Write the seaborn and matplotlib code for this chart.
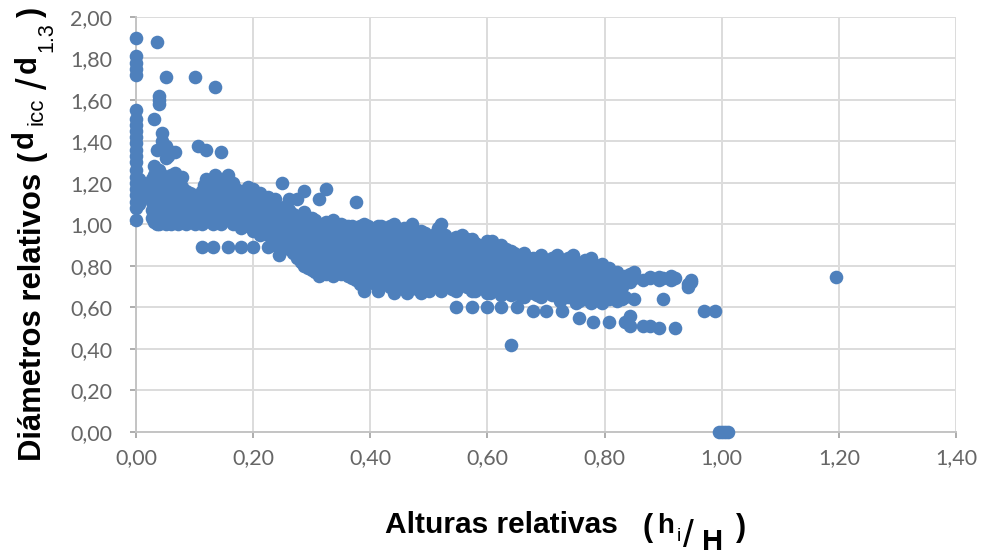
import pandas as pd
import matplotlib
matplotlib.use('Agg')
import matplotlib.pyplot as plt
import seaborn as sns

# each x position with the y values read at that position
x_columns = [0.000, 0.005, 0.012, 0.027, 0.030, 0.035, 0.040, 0.045, 0.052, 0.055, 0.060, 0.066,
             0.072, 0.078, 0.085, 0.092, 0.100, 0.105, 0.112, 0.120, 0.131, 0.135, 0.145, 0.157,
             0.165, 0.180, 0.192, 0.200, 0.212, 0.225, 0.238, 0.250, 0.262, 0.275, 0.287, 0.300,
             0.312, 0.325, 0.337, 0.350, 0.362, 0.376, 0.390, 0.402, 0.413, 0.425, 0.440, 0.452,
             0.463, 0.472, 0.487, 0.500, 0.512, 0.520, 0.533, 0.546, 0.556, 0.573, 0.585, 0.600,
             0.607, 0.624, 0.631, 0.640, 0.650, 0.662, 0.678, 0.692, 0.700, 0.719, 0.728, 0.746,
             0.756, 0.776, 0.780, 0.796, 0.807, 0.822, 0.835, 0.843, 0.851, 0.865, 0.878, 0.893,
             0.900, 0.913, 0.920, 0.942, 0.948, 0.969, 0.988, 0.995, 1.000, 1.005, 1.010, 1.195]
y_columns = [
    [1.02, 1.08, 1.11, 1.14, 1.17, 1.20, 1.23, 1.26, 1.30, 1.33, 1.36, 1.39, 1.42, 1.45, 1.48, 1.51, 1.55, 1.72, 1.75, 1.78, 1.81, 1.90],
    [1.10, 1.16, 1.22],
    [1.13, 1.17, 1.20],
    [1.03, 1.07, 1.11, 1.15, 1.19, 1.22],
    [1.01, 1.06, 1.12, 1.17, 1.24, 1.28, 1.51],
    [1.00, 1.04, 1.09, 1.14, 1.19, 1.23, 1.36, 1.88],
    [1.00, 1.05, 1.10, 1.16, 1.21, 1.26, 1.58, 1.60, 1.62],
    [1.02, 1.07, 1.13, 1.18, 1.24, 1.40, 1.44],
    [1.00, 1.04, 1.09, 1.15, 1.20, 1.32, 1.38, 1.71],
    [1.03, 1.08, 1.14, 1.22, 1.33, 1.36],
    [1.00, 1.05, 1.11, 1.17, 1.24],
    [1.02, 1.07, 1.13, 1.19, 1.25, 1.35],
    [1.00, 1.05, 1.10, 1.16, 1.22],
    [1.03, 1.08, 1.13, 1.18, 1.23],
    [1.00, 1.06, 1.11, 1.16],
    [1.02, 1.07, 1.12, 1.15],
    [1.00, 1.05, 1.10, 1.14, 1.71],
    [1.03, 1.08, 1.13, 1.38],
    [1.00, 1.06, 1.11, 1.16, 0.89],
    [1.02, 1.07, 1.12, 1.18, 1.22, 1.36],
    [1.00, 1.05, 1.10, 1.15, 1.20, 0.89],
    [1.03, 1.08, 1.13, 1.24, 1.66],
    [1.00, 1.06, 1.11, 1.17, 1.22, 1.35],
    [1.02, 1.07, 1.12, 1.18, 1.24, 0.89],
    [1.00, 1.05, 1.10, 1.15, 1.20],
    [0.98, 1.03, 1.08, 1.13, 1.16, 0.89],
    [0.99, 1.04, 1.09, 1.14, 1.18],
    [0.97, 1.01, 1.06, 1.11, 1.17, 0.89],
    [0.95, 1.00, 1.05, 1.10, 1.15],
    [0.95, 0.99, 1.03, 1.08, 1.13, 0.89],
    [0.90, 0.95, 1.00, 1.05, 1.12],
    [0.88, 0.93, 0.98, 1.03, 1.08, 1.20],
    [0.88, 0.92, 0.97, 1.02, 1.07, 1.12],
    [0.84, 0.89, 0.94, 0.99, 1.04, 1.12],
    [0.80, 0.85, 0.91, 0.96, 1.01, 1.06, 1.16],
    [0.78, 0.83, 0.88, 0.93, 0.98, 1.03],
    [0.75, 0.80, 0.85, 0.90, 0.95, 1.00, 1.12],
    [0.76, 0.82, 0.87, 0.92, 0.97, 1.01, 1.17],
    [0.75, 0.80, 0.85, 0.90, 0.95, 1.02],
    [0.76, 0.81, 0.86, 0.91, 0.96, 1.00],
    [0.75, 0.79, 0.84, 0.89, 0.94, 0.99],
    [0.73, 0.78, 0.83, 0.88, 0.93, 0.98, 1.11],
    [0.68, 0.74, 0.79, 0.84, 0.89, 0.94, 1.00],
    [0.72, 0.77, 0.82, 0.87, 0.92, 0.97],
    [0.68, 0.74, 0.79, 0.84, 0.89, 0.94, 0.99],
    [0.72, 0.77, 0.82, 0.87, 0.92, 0.97],
    [0.67, 0.73, 0.78, 0.83, 0.88, 0.93, 1.00],
    [0.71, 0.76, 0.81, 0.86, 0.91, 0.96],
    [0.67, 0.73, 0.78, 0.83, 0.88, 0.93, 0.98],
    [0.70, 0.75, 0.80, 0.85, 0.90, 1.00],
    [0.67, 0.72, 0.77, 0.82, 0.87, 0.92, 0.97],
    [0.68, 0.74, 0.79, 0.84, 0.89, 0.94],
    [0.71, 0.76, 0.81, 0.86, 0.91, 0.96],
    [0.68, 0.73, 0.78, 0.83, 0.88, 0.93, 1.00],
    [0.71, 0.76, 0.81, 0.86, 0.91],
    [0.60, 0.68, 0.73, 0.78, 0.83, 0.88, 0.94],
    [0.71, 0.76, 0.81, 0.86, 0.90, 0.95],
    [0.60, 0.68, 0.73, 0.78, 0.83, 0.88, 0.93],
    [0.70, 0.75, 0.80, 0.85, 0.90],
    [0.60, 0.67, 0.72, 0.77, 0.82, 0.87, 0.92],
    [0.70, 0.75, 0.80, 0.85, 0.92],
    [0.60, 0.66, 0.71, 0.76, 0.81, 0.86, 0.90],
    [0.69, 0.74, 0.79, 0.84, 0.88],
    [0.42, 0.66, 0.72, 0.77, 0.82, 0.87],
    [0.60, 0.69, 0.74, 0.79, 0.84],
    [0.65, 0.71, 0.76, 0.81, 0.86],
    [0.58, 0.67, 0.72, 0.77, 0.82, 0.84],
    [0.65, 0.70, 0.75, 0.80, 0.85],
    [0.58, 0.68, 0.73, 0.78, 0.83],
    [0.66, 0.71, 0.76, 0.81, 0.85],
    [0.58, 0.69, 0.74, 0.79, 0.83],
    [0.66, 0.71, 0.76, 0.81, 0.85],
    [0.55, 0.63, 0.69, 0.74, 0.79],
    [0.62, 0.68, 0.73, 0.78, 0.84],
    [0.53, 0.66, 0.71, 0.76, 0.81],
    [0.62, 0.68, 0.73, 0.77, 0.81],
    [0.53, 0.64, 0.70, 0.75, 0.79],
    [0.63, 0.68, 0.73, 0.77],
    [0.53, 0.65, 0.73, 0.75],
    [0.51, 0.56, 0.72, 0.76],
    [0.64, 0.74, 0.77],
    [0.51, 0.73],
    [0.51, 0.74, 0.745],
    [0.50, 0.73, 0.745],
    [0.64, 0.74],
    [0.73, 0.75],
    [0.50, 0.74],
    [0.70, 0.71],
    [0.72, 0.73],
    [0.58],
    [0.58],
    [0.00],
    [0.00],
    [0.00],
    [0.00],
    [0.745],
]
# more readings in between, where the cloud is solid
x_extra = [0.038, 0.049, 0.063, 0.075, 0.089, 0.103, 0.116, 0.127, 0.141, 0.153, 0.170, 0.186, 0.206, 0.219,
           0.232, 0.244, 0.256, 0.268, 0.281, 0.294, 0.306, 0.319, 0.331, 0.344, 0.356, 0.369, 0.383, 0.396,
           0.408, 0.419, 0.433, 0.446, 0.458, 0.468, 0.480, 0.494, 0.506, 0.516, 0.527, 0.540, 0.551, 0.565,
           0.579, 0.593, 0.604, 0.616, 0.628, 0.636, 0.645, 0.656, 0.670, 0.685, 0.696, 0.710, 0.724, 0.737,
           0.751, 0.766, 0.788, 0.802, 0.815, 0.829]
y_extra = [
    [1.03, 1.08, 1.13, 1.18, 1.22],
    [1.02, 1.06, 1.11, 1.16, 1.21],
    [1.03, 1.08, 1.14, 1.20],
    [1.02, 1.07, 1.12, 1.17, 1.21],
    [1.03, 1.08, 1.13],
    [1.02, 1.07, 1.12],
    [1.03, 1.09, 1.14, 1.19],
    [1.03, 1.08, 1.13, 1.17],
    [1.04, 1.09, 1.14, 1.19],
    [1.03, 1.09, 1.15, 1.21],
    [1.02, 1.07, 1.12, 1.17],
    [1.01, 1.06, 1.11, 1.15],
    [0.99, 1.03, 1.08, 1.13],
    [0.97, 1.02, 1.07, 1.12],
    [0.93, 0.97, 1.02, 1.07, 1.10],
    [0.85, 0.92, 0.97, 1.02, 1.07],
    [0.90, 0.95, 1.00, 1.05, 1.09],
    [0.86, 0.91, 0.96, 1.01, 1.05],
    [0.82, 0.87, 0.92, 0.97, 1.02],
    [0.79, 0.85, 0.90, 0.95, 1.00, 1.03],
    [0.77, 0.82, 0.87, 0.92, 0.97, 1.02],
    [0.77, 0.84, 0.89, 0.94, 0.99],
    [0.77, 0.82, 0.87, 0.92, 0.97, 1.00],
    [0.77, 0.83, 0.88, 0.93, 0.98],
    [0.77, 0.82, 0.87, 0.92, 0.97, 0.99],
    [0.74, 0.80, 0.85, 0.90, 0.95, 0.99],
    [0.71, 0.76, 0.81, 0.86, 0.91, 0.96, 0.99],
    [0.75, 0.79, 0.84, 0.89, 0.94, 0.99],
    [0.71, 0.76, 0.81, 0.86, 0.91, 0.96],
    [0.74, 0.79, 0.84, 0.89, 0.94, 0.99],
    [0.70, 0.75, 0.80, 0.85, 0.90, 0.95, 0.99],
    [0.73, 0.78, 0.83, 0.88, 0.93, 0.98],
    [0.69, 0.74, 0.79, 0.84, 0.89, 0.94, 0.98],
    [0.72, 0.77, 0.82, 0.87, 0.92, 0.97],
    [0.69, 0.74, 0.79, 0.84, 0.89, 0.94],
    [0.72, 0.77, 0.82, 0.87, 0.92, 0.96],
    [0.70, 0.74, 0.79, 0.84, 0.89, 0.94],
    [0.73, 0.78, 0.83, 0.88, 0.93, 0.98],
    [0.70, 0.75, 0.80, 0.85, 0.90, 0.95],
    [0.69, 0.74, 0.79, 0.84, 0.89, 0.93],
    [0.72, 0.77, 0.82, 0.87, 0.92],
    [0.70, 0.75, 0.80, 0.85, 0.90, 0.93],
    [0.68, 0.73, 0.78, 0.83, 0.88, 0.91],
    [0.71, 0.76, 0.81, 0.86, 0.90],
    [0.67, 0.72, 0.77, 0.82, 0.87, 0.91],
    [0.69, 0.74, 0.79, 0.84, 0.89],
    [0.68, 0.73, 0.78, 0.83, 0.87],
    [0.70, 0.75, 0.80, 0.85],
    [0.67, 0.72, 0.77, 0.82, 0.86],
    [0.66, 0.71, 0.76, 0.81, 0.85],
    [0.69, 0.74, 0.79, 0.84],
    [0.66, 0.71, 0.76, 0.81, 0.84],
    [0.68, 0.73, 0.78, 0.83],
    [0.66, 0.71, 0.76, 0.81, 0.84],
    [0.63, 0.68, 0.73, 0.78, 0.83],
    [0.65, 0.70, 0.75, 0.80, 0.84],
    [0.62, 0.67, 0.72, 0.77, 0.82],
    [0.64, 0.69, 0.74, 0.79, 0.83],
    [0.65, 0.71, 0.76, 0.80],
    [0.66, 0.71, 0.75, 0.78],
    [0.65, 0.70, 0.74, 0.76],
    [0.64, 0.70, 0.74],
]
x_ticks = [0.0, 0.2, 0.4, 0.6, 0.8, 1.0, 1.2, 1.4]
y_ticks = [0.0, 0.2, 0.4, 0.6, 0.8, 1.0, 1.2, 1.4, 1.6, 1.8, 2.0]

rows = []
for x, ys in zip(x_columns + x_extra, y_columns + y_extra):
    for y in ys:
        rows.append((x, y))
df = pd.DataFrame(rows, columns=['hi_H', 'd_rel'])

sns.set_style('whitegrid')
plt.rcParams['font.family'] = ['Lato', 'DejaVu Sans']
W, H = 982, 556
fig = plt.figure(figsize=(W / 100, H / 100), dpi=100)
ax = fig.add_axes([136 / W, 1 - 431.7 / H, 820 / W, 414.7 / H])

sns.scatterplot(x='hi_H', y='d_rel', data=df, ax=ax, s=96, color='#4e80bc', linewidth=0,
                clip_on=False, zorder=3)

ax.set_xlim(0, 1.4)
ax.set_ylim(0, 2)
ax.set_xticks(x_ticks)
ax.set_yticks(y_ticks)
ax.set_xticklabels([f'{v:.2f}'.replace('.', ',') for v in x_ticks])
ax.set_yticklabels([f'{v:.2f}'.replace('.', ',') for v in y_ticks])
ax.set_xlabel('')
ax.set_ylabel('')
ax.grid(True, color='#dcdcdc', linewidth=1.4)
ax.tick_params(axis='both', colors='#a0a0a0', labelcolor='#666666', labelsize=15.5, length=4, width=1.2,
               left=True, bottom=True)
ax.tick_params(axis='x', pad=8)
ax.tick_params(axis='y', pad=13)
for side in ['top', 'right']:
    ax.spines[side].set_visible(False)
for side in ['left', 'bottom']:
    ax.spines[side].set_color('#c4c4c4')
    ax.spines[side].set_linewidth(1.4)


def xlab(px, py, s, size, weight='bold'):
    fig.text(px / W, 1 - py / H, s, fontsize=size, fontweight=weight, family='Liberation Sans',
             color='black', ha='left', va='baseline')


def ylab(px, py, s, size, weight='bold'):
    fig.text(px / W, 1 - py / H, s, fontsize=size, fontweight=weight, family='Liberation Sans',
             color='black', rotation=90, ha='left', va='baseline', rotation_mode='anchor')


# x axis title
xlab(385, 533, 'Alturas relativas', 21.5)
xlab(643, 536, '(', 22)
xlab(657, 533, 'h', 20)
xlab(677, 541, 'i', 14, 'normal')
xlab(683, 547, '/', 28, 'normal')
xlab(702, 550, 'H', 21)
xlab(736, 536, ')', 22)

# y axis title
ylab(41, 461, 'Diámetros relativos', 22.3)
ylab(40, 161, '(', 22)
ylab(33, 148, 'd', 21)
ylab(43, 125, 'icc', 16, 'normal')
ylab(47, 89, '/', 30, 'normal')
ylab(36, 73, 'd', 21)
ylab(52, 52, '1.3', 15.5, 'normal')
ylab(40, 17, ')', 22)

plt.savefig('out.png', dpi=100)
